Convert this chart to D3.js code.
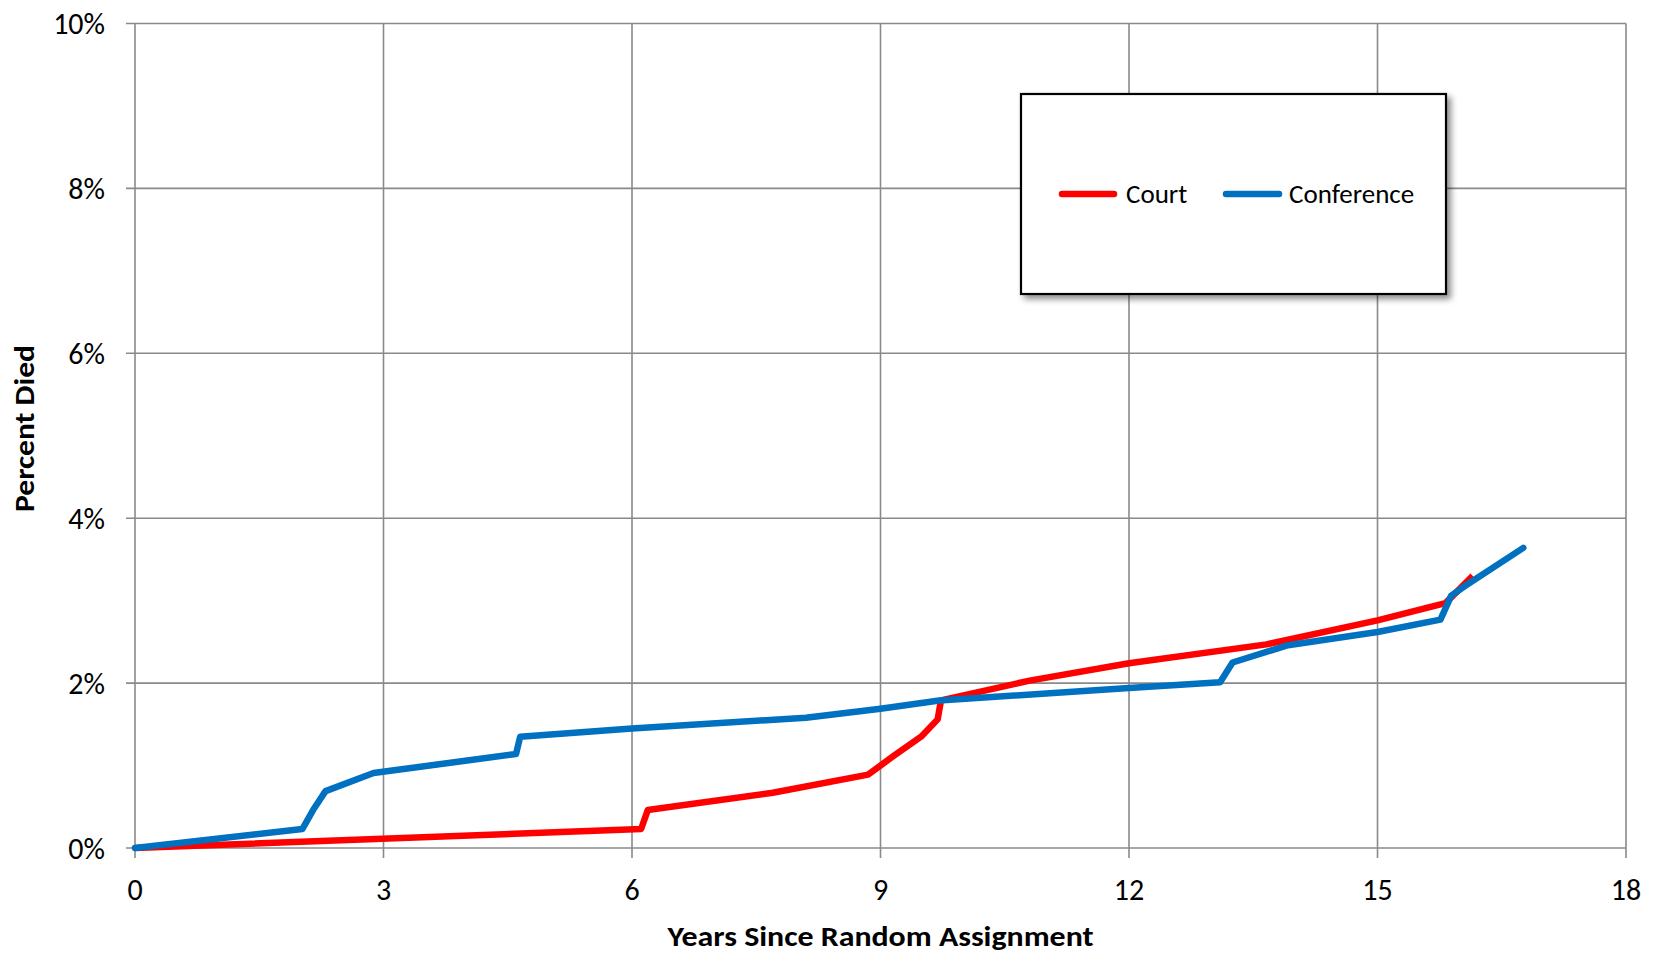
<!DOCTYPE html>
<html><head><meta charset="utf-8">
<script src="https://cdn.jsdelivr.net/npm/d3@7"></script>
<style>
html,body{margin:0;padding:0;background:#fff;}
svg{display:block;font-family:Carlito,Lato,"Open Sans",sans-serif;}
</style></head>
<body>
<svg id="chart" width="1656" height="953"></svg>
<script>
// ---- data ----
const xTicks = [0, 3, 6, 9, 12, 15, 18];
const yTicks = [0, 2, 4, 6, 8, 10];
const yTickLabels = ["0%", "2%", "4%", "6%", "8%", "10%"];
const seriesNames = ["Court", "Conference"];
const courtYears = [0, 6.11, 6.19, 7.70, 8.85, 9.15, 9.49, 9.69, 9.73, 10.8, 12, 13.66, 15, 15.82, 16.15];
const courtPct   = [0, 0.23, 0.46, 0.67, 0.89, 1.11, 1.35, 1.56, 1.79, 2.03, 2.24, 2.47, 2.76, 2.97, 3.30];
const confYears  = [0, 2.02, 2.15, 2.30, 2.88, 4.60, 4.65, 6, 8.10, 9, 9.71, 12, 13.1, 13.25, 13.92, 15, 15.76, 15.89, 16.06, 16.76];
const confPct    = [0, 0.23, 0.46, 0.69, 0.91, 1.14, 1.35, 1.45, 1.58, 1.69, 1.79, 1.94, 2.01, 2.25, 2.46, 2.62, 2.77, 3.06, 3.18, 3.64];
const xTitle = "Years Since Random Assignment";
const yTitle = "Percent Died";

// ---- layout ----
const svg = d3.select("#chart");
const L = 135, R = 1626, T = 23.5, B = 848;
const x = d3.scaleLinear().domain([0, 18]).range([L, R]);
const y = d3.scaleLinear().domain([0, 10]).range([B, T]);
const gridColor = "#8a8a8a";

const defs = svg.append("defs");
const f = defs.append("filter").attr("id", "shadow").attr("x", "-10%").attr("y", "-10%").attr("width", "130%").attr("height", "130%");
f.append("feDropShadow").attr("dx", 4).attr("dy", 4).attr("stdDeviation", 3).attr("flood-color", "#000").attr("flood-opacity", 0.45);

// grid
const g = svg.append("g");
g.selectAll(".vg").data(xTicks).join("line")
  .attr("x1", d => x(d)).attr("x2", d => x(d))
  .attr("y1", y(10)).attr("y2", B + 10)
  .attr("stroke", gridColor).attr("stroke-width", 1.6);
g.selectAll(".hg").data(yTicks).join("line")
  .attr("x1", L - 9).attr("x2", x(18))
  .attr("y1", d => y(d)).attr("y2", d => y(d))
  .attr("stroke", gridColor).attr("stroke-width", 1.6);

// tick labels
g.selectAll(".yl").data(yTicks).join("text")
  .attr("x", 105).attr("y", d => y(d)).attr("dy", "0.35em")
  .attr("text-anchor", "end").attr("font-size", 30).attr("fill", "#000")
  .text((d, i) => yTickLabels[i]);
g.selectAll(".xl").data(xTicks).join("text")
  .attr("x", d => x(d)).attr("y", 889).attr("dy", "0.35em")
  .attr("text-anchor", "middle").attr("font-size", 30).attr("fill", "#000")
  .text(d => d);

// titles
svg.append("text").attr("x", (L + R) / 2).attr("y", 936).attr("dy", "0.35em")
  .attr("text-anchor", "middle").attr("font-size", 28).attr("font-weight", "bold")
  .attr("textLength", 426).attr("lengthAdjust", "spacingAndGlyphs").text(xTitle);
svg.append("text").attr("transform", `translate(24,428.5) rotate(-90)`).attr("dy", "0.35em")
  .attr("text-anchor", "middle").attr("font-size", 28).attr("font-weight", "bold")
  .attr("textLength", 167).attr("lengthAdjust", "spacingAndGlyphs").text(yTitle);

// lines
const line = d3.line().x(d => x(d[0])).y(d => y(d[1]));
const court = courtYears.map((v, i) => [v, courtPct[i]]);
const conf = confYears.map((v, i) => [v, confPct[i]]);
const colors = ["#ff0000", "#0070c0"];
svg.append("path").datum(court).attr("d", line).attr("fill", "none")
  .attr("stroke", colors[0]).attr("stroke-width", 6.5).attr("stroke-linejoin", "round").attr("stroke-linecap", "butt");
svg.append("path").datum(conf).attr("d", line).attr("fill", "none")
  .attr("stroke", colors[1]).attr("stroke-width", 6.5).attr("stroke-linejoin", "round").attr("stroke-linecap", "round");

// legend
const lg = svg.append("g");
lg.append("rect").attr("x", 1021).attr("y", 94).attr("width", 425).attr("height", 200)
  .attr("fill", "#fff").attr("stroke", "#000").attr("stroke-width", 2.2).attr("filter", "url(#shadow)");
const items = [{x0: 1062, x1: 1114, tx: 1126}, {x0: 1226, x1: 1279, tx: 1289}];
items.forEach((it, i) => {
  lg.append("line").attr("x1", it.x0).attr("x2", it.x1).attr("y1", 194).attr("y2", 194)
    .attr("stroke", colors[i]).attr("stroke-width", 6.5).attr("stroke-linecap", "round");
  lg.append("text").attr("x", it.tx).attr("y", 194).attr("dy", "0.35em")
    .attr("font-size", 27).attr("fill", "#000").text(seriesNames[i]);
});
</script>
</body></html>
